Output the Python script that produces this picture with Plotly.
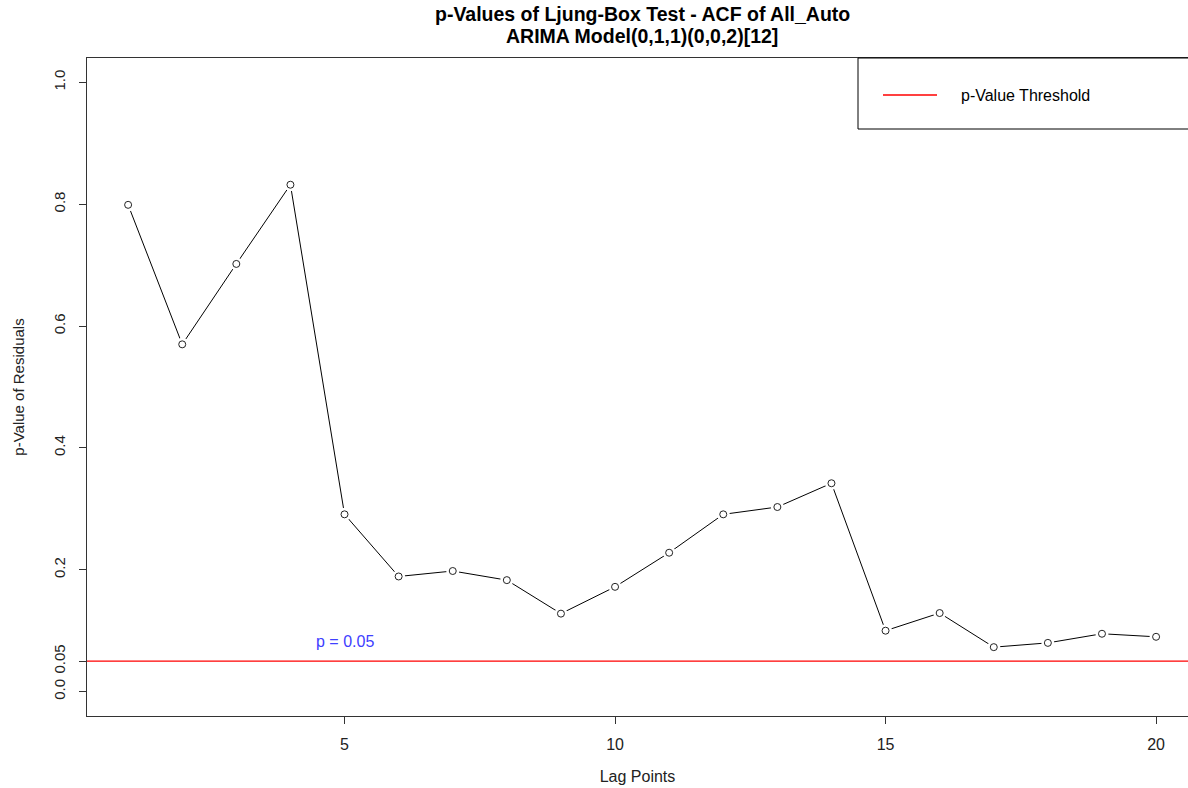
import plotly.graph_objects as go

# Ljung-Box p-values of the model residuals at each lag
lags = list(range(1, 21))
p_values = [0.799, 0.570, 0.702, 0.832, 0.291, 0.189, 0.198, 0.183, 0.128, 0.172,
            0.228, 0.291, 0.303, 0.342, 0.100, 0.129, 0.073, 0.080, 0.095, 0.090]
threshold = 0.05

y_ticks = [0.0, 0.05, 0.2, 0.4, 0.6, 0.8, 1.0]
y_tick_text = ["0.0", "0.05", "0.2", "0.4", "0.6", "0.8", "1.0"]
x_ticks = [5, 10, 15, 20]

title_lines = ["p-Values of Ljung-Box Test - ACF of All_Auto",
               "ARIMA Model(0,1,1)(0,0,2)[12]"]

FONT = "Liberation Sans, Arial, sans-serif"
W, H = 1188, 788
L, R, T, B = 87, 0, 58, 72
PW, PH = W - L - R, H - T - B


def px_x(px):
    return (px - L) / PW


def px_y(py):
    return (H - B - py) / PH


fig = go.Figure()

# connecting line
fig.add_trace(go.Scatter(x=lags, y=p_values, mode="lines",
                         line=dict(color="black", width=1), hoverinfo="skip",
                         showlegend=False))
# white halo so the line stops short of each point
fig.add_trace(go.Scatter(x=lags, y=p_values, mode="markers",
                         marker=dict(symbol="circle", size=13, color="white",
                                     line=dict(width=0)),
                         hoverinfo="skip", showlegend=False))
# open circle points
fig.add_trace(go.Scatter(x=lags, y=p_values, mode="markers",
                         marker=dict(symbol="circle", size=7, color="white",
                                     line=dict(color="#222222", width=1)),
                         showlegend=False))

# significance threshold
fig.add_hline(y=threshold, line=dict(color="#ff0000", width=1.2), layer="below")

fig.add_annotation(x=5, y=0.082, text="p = 0.05", showarrow=False,
                   font=dict(family=FONT, size=16, color="#4040ff"))

# two-line bold title, centred over the full plotting region
for text, py in zip(title_lines, [14, 36]):
    fig.add_annotation(xref="paper", yref="paper", x=px_x(642), y=px_y(py),
                       xanchor="center", yanchor="middle", showarrow=False,
                       text=f"<b>{text}</b>",
                       font=dict(family=FONT, size=19.5, color="black"))

# legend box
fig.add_shape(type="rect", xref="paper", yref="paper",
              x0=px_x(858), x1=1.01, y0=px_y(129), y1=1.0,
              line=dict(color="black", width=1), fillcolor="white")
fig.add_shape(type="line", xref="paper", yref="paper",
              x0=px_x(883), x1=px_x(937), y0=px_y(95), y1=px_y(95),
              line=dict(color="#ff0000", width=1.5))
fig.add_annotation(xref="paper", yref="paper", x=px_x(959), y=px_y(95),
                   xanchor="left", yanchor="middle", showarrow=False,
                   text="p-Value Threshold",
                   font=dict(family=FONT, size=16, color="black"))

fig.update_layout(
    width=W, height=H,
    margin=dict(l=L, r=R, t=T, b=B),
    paper_bgcolor="white", plot_bgcolor="white",
    font=dict(family=FONT, size=15, color="#222222"),
    xaxis=dict(range=[0.24, 20.59], tickvals=x_ticks, ticks="outside", ticklen=7,
               tickcolor="#333333", showgrid=False, zeroline=False,
               showline=True, linecolor="#333333", linewidth=1, mirror=True,
               ticklabelstandoff=7, tickfont=dict(size=16),
               title=dict(text="Lag Points", standoff=18,
                          font=dict(family=FONT, size=16, color="#222222"))),
    yaxis=dict(range=[-0.04, 1.04], tickvals=y_ticks, ticktext=y_tick_text,
               ticks="outside", ticklen=7, tickcolor="#333333", tickangle=-90,
               showgrid=False, zeroline=False,
               showline=True, linecolor="#333333", linewidth=1, mirror=True,
               ticklabelstandoff=8, tickfont=dict(size=15),
               title=dict(text="p-Value of Residuals", standoff=22,
                          font=dict(family=FONT, size=15, color="#222222"))),
)

fig.write_html("out.html")
